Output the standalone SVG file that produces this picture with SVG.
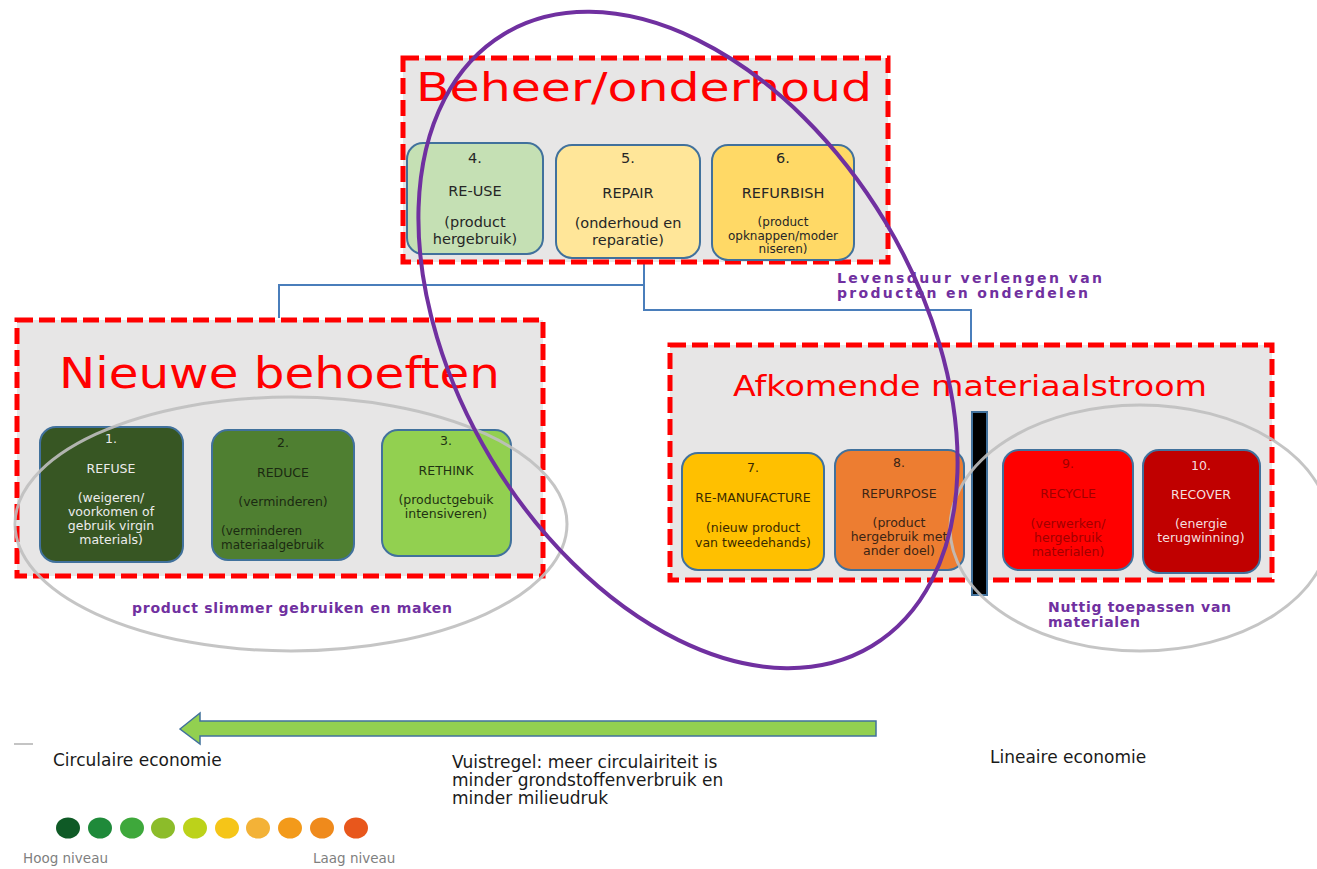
<svg xmlns="http://www.w3.org/2000/svg" width="1317" height="869" viewBox="0 0 1317 869">
<style>
text{font-family:"DejaVu Sans",Verdana,sans-serif}
.grp{fill:#e7e6e6;stroke:#ff0000;stroke-width:5;stroke-dasharray:16 6}
.title{fill:#ff0000}
.card{stroke:#41719c;stroke-width:2}
.c{text-anchor:middle}
.t15{font-size:14.5px}
.t13{font-size:12.5px}
.t12{font-size:12px}
.pur{fill:#7030a0;font-weight:bold;font-size:14px}
.gray{fill:none;stroke:#bfbfbf;stroke-width:3;opacity:.9}
.conn{fill:none;stroke:#4a7ebb;stroke-width:2}
.body{fill:#1a1a1a;font-size:17px}
</style>

<g id="connectors">
<polyline class="conn" points="644,263 644,310 971,310 971,343"/>
<polyline class="conn" points="644,285 279,285 279,318"/>
</g>

<g id="beheer">
<rect class="grp" x="403" y="58" width="485" height="204"/>
<text class="title" x="416" y="101" font-size="39" textLength="456" lengthAdjust="spacingAndGlyphs">Beheer/onderhoud</text>
</g>
<g id="n4">
<rect class="card" x="407" y="143" width="136" height="111" rx="16" fill="#c5e0b4"/>
<g class="c t15" fill="#262626">
<text x="475" y="163">4.</text><text x="475" y="196">RE-USE</text>
<text x="475" y="227">(product</text><text x="475" y="244">hergebruik)</text></g>
</g>
<g id="n5">
<rect class="card" x="556" y="145" width="144" height="113" rx="16" fill="#ffe699"/>
<g class="c t15" fill="#262626">
<text x="628" y="163">5.</text><text x="628" y="198">REPAIR</text>
<text x="628" y="228">(onderhoud en</text><text x="628" y="245">reparatie)</text></g>
</g>
<g id="n6">
<rect class="card" x="712" y="145" width="142" height="115" rx="16" fill="#ffd966"/>
<g class="c" fill="#262626">
<text class="t15" x="783" y="163">6.</text><text class="t15" x="783" y="198">REFURBISH</text>
<text class="t12" x="783" y="226">(product</text><text class="t12" x="783" y="239.5">opknappen/moder</text><text class="t12" x="783" y="253">niseren)</text></g>
</g>

<g id="nieuwe">
<rect class="grp" x="17" y="320" width="526" height="256"/>
<text class="title" x="59" y="388" font-size="43" textLength="441" lengthAdjust="spacingAndGlyphs">Nieuwe behoeften</text>
</g>
<g id="n1">
<rect class="card" x="40" y="427" width="143" height="135" rx="16" fill="#375623"/>
<g class="c t13" fill="#ececec">
<text x="111" y="443">1.</text><text x="111" y="473">REFUSE</text>
<text x="111" y="502">(weigeren/</text><text x="111" y="516">voorkomen of</text><text x="111" y="530">gebruik virgin</text><text x="111" y="544">materials)</text></g>
</g>
<g id="n2">
<rect class="card" x="212" y="430" width="142" height="130" rx="16" fill="#4f7f31"/>
<g class="t13" fill="#1b2a12">
<text class="c" x="283" y="447">2.</text><text class="c" x="283" y="477">REDUCE</text>
<text class="c" x="283" y="506">(verminderen)</text>
<text x="221" y="535" font-size="12px">(verminderen</text><text x="221" y="549" font-size="12px">materiaalgebruik</text></g>
</g>
<g id="n3">
<rect class="card" x="382" y="430" width="129" height="126" rx="16" fill="#92d050"/>
<g class="c t13" fill="#1f3312">
<text x="446" y="445">3.</text><text x="446" y="475">RETHINK</text>
<text x="446" y="504">(productgebuik</text><text x="446" y="518">intensiveren)</text></g>
</g>

<g id="afkomende">
<rect class="grp" x="670" y="345" width="602" height="235"/>
<text class="title" x="733" y="396" font-size="29" textLength="474" lengthAdjust="spacingAndGlyphs">Afkomende materiaalstroom</text>
</g>
<g id="n7">
<rect class="card" x="682" y="453" width="142" height="117" rx="16" fill="#ffc000"/>
<g class="c t13" fill="#3a2a00">
<text x="753" y="472">7.</text><text x="753" y="502">RE-MANUFACTURE</text>
<text x="753" y="532">(nieuw product</text><text x="753" y="547">van tweedehands)</text></g>
</g>
<g id="n8">
<rect class="card" x="835" y="450" width="129" height="120" rx="16" fill="#ed7d31"/>
<g class="c t13" fill="#3b2414">
<text x="899" y="467">8.</text><text x="899" y="498">REPURPOSE</text>
<text x="899" y="527">(product</text><text x="899" y="541">hergebruik met</text><text x="899" y="555">ander doel)</text></g>
</g>
<g id="separator">
<rect x="972" y="412" width="15" height="183" fill="#000" stroke="#41719c" stroke-width="2"/>
</g>
<g id="n9">
<rect class="card" x="1003" y="450" width="130" height="120" rx="16" fill="#ff0000"/>
<g class="c t13" fill="#a00000">
<text x="1068" y="468">9.</text><text x="1068" y="498">RECYCLE</text>
<text x="1068" y="528">(verwerken/</text><text x="1068" y="542">hergebruik</text><text x="1068" y="556">materialen)</text></g>
</g>
<g id="n10">
<rect class="card" x="1143" y="450" width="117" height="123" rx="16" fill="#c00000"/>
<g class="c t13" fill="#f4dede">
<text x="1201" y="470">10.</text><text x="1201" y="499">RECOVER</text>
<text x="1201" y="528">(energie</text><text x="1201" y="542">terugwinning)</text></g>
</g>

<g id="grouping-ellipses">
<ellipse class="gray" cx="291" cy="524" rx="276" ry="127"/>
<ellipse class="gray" cx="1140" cy="528" rx="190" ry="123"/>
<ellipse cx="688" cy="340" rx="230" ry="357" transform="rotate(-31 688 340)" fill="none" stroke="#7030a0" stroke-width="4"/>
</g>

<g id="labels">
<text class="pur" x="837" y="283" textLength="265" lengthAdjust="spacing">Levensduur verlengen van</text>
<text class="pur" x="837" y="298" textLength="251" lengthAdjust="spacing">producten en onderdelen</text>
<text class="pur" x="132" y="613" textLength="320" lengthAdjust="spacing">product slimmer gebruiken en maken</text>
<text class="pur" x="1048" y="612" textLength="183" lengthAdjust="spacing">Nuttig toepassen van</text>
<text class="pur" x="1048" y="627" textLength="92" lengthAdjust="spacing">materialen</text>
</g>

<g id="arrow">
<polygon points="180,729 200,713 200,721 876,721 876,736 200,736 200,744" fill="#92d050" stroke="#41719c" stroke-width="1.5" stroke-linejoin="miter"/>
</g>
<line x1="14" y1="744" x2="33" y2="744" stroke="#b0b0b0" stroke-width="1.5"/>

<g id="bottom-text">
<text class="body" x="53" y="766">Circulaire economie</text>
<text class="body" x="990" y="763">Lineaire economie</text>
<text class="body" x="452" y="768" font-size="17.5">Vuistregel: meer circulairiteit is</text>
<text class="body" x="452" y="786" font-size="17.5">minder grondstoffenverbruik en</text>
<text class="body" x="452" y="804" font-size="17.5">minder milieudruk</text>
</g>

<g id="legend">
<ellipse cx="68" cy="828" rx="12" ry="10.5" fill="#0f5a26"/>
<ellipse cx="100" cy="828" rx="12" ry="10.5" fill="#1f8a3a"/>
<ellipse cx="132" cy="828" rx="12" ry="10.5" fill="#3ea83b"/>
<ellipse cx="163" cy="828" rx="12" ry="10.5" fill="#8cbc2a"/>
<ellipse cx="195" cy="828" rx="12" ry="10.5" fill="#bcd21a"/>
<ellipse cx="227" cy="828" rx="12" ry="10.5" fill="#f5c518"/>
<ellipse cx="258" cy="828" rx="12" ry="10.5" fill="#f3b237"/>
<ellipse cx="290" cy="828" rx="12" ry="10.5" fill="#f39a1a"/>
<ellipse cx="322" cy="828" rx="12" ry="10.5" fill="#ef8a1c"/>
<ellipse cx="356" cy="828" rx="12" ry="10.5" fill="#e8571c"/>
<text x="23" y="863" font-size="13.5" fill="#7f7f7f">Hoog niveau</text>
<text x="313" y="863" font-size="13.5" fill="#7f7f7f">Laag niveau</text>
</g>
</svg>
